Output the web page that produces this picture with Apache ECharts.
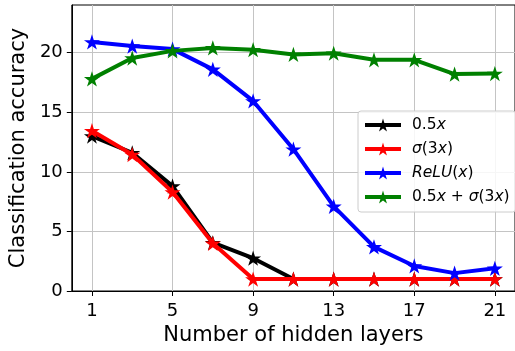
<!DOCTYPE html>
<html><head><meta charset="utf-8">
<script src="https://cdn.jsdelivr.net/npm/echarts@6/dist/echarts.min.js"></script>
<style>html,body{margin:0;padding:0;background:#fff}#c{width:515px;height:351px}</style>
</head><body><div id="c"></div>
<script>
const layers = [1,3,5,7,9,11,13,15,17,19,21];
const xTicks = [1,5,9,13,17,21];
const yTicks = [0,5,10,15,20];
const linear = [13.0,11.6,8.8,4.05,2.75,1.0,1.0,1.0,1.0,1.0,1.0];
const sigmoid = [13.45,11.45,8.3,4.0,1.0,1.0,1.0,1.0,1.0,1.0,1.0];
const relu = [20.9,20.55,20.3,18.6,15.95,11.9,7.1,3.7,2.1,1.5,1.9];
const mixed = [17.8,19.55,20.15,20.4,20.25,19.85,19.95,19.4,19.4,18.2,18.25];
const seriesNames = ['0.5x','σ(3x)','ReLU(x)','0.5x + σ(3x)'];
const legendRich = {
  '0.5x': '{n|0.5}{i|x}',
  'σ(3x)': '{i|σ}{n|(3}{i|x}{n|)}',
  'ReLU(x)': '{i|ReLU}{n|(}{i|x}{n|)}',
  '0.5x + σ(3x)': '{n|0.5}{i|x}{n| + }{i|σ}{n|(3}{i|x}{n|)}'
};
const colors = ['#000000','#ff0000','#0000ff','#008000'];
const star = 'path://M50 0 L61.23 34.55 L97.55 34.55 L68.17 55.9 L79.39 90.45 L50 69.1 L20.61 90.45 L31.83 55.9 L2.45 34.55 L38.77 34.55 Z';
const font = 'DejaVu Sans';
const allData = [linear, sigmoid, relu, mixed];
const chart = echarts.init(document.getElementById('c'), null, {renderer:'canvas'});
chart.setOption({
  animation:false,
  textStyle:{fontFamily:font},
  grid:{left:70,right:0,top:5,bottom:56,show:true,borderColor:'#000',borderWidth:1},
  xAxis:{type:'value',min:0,max:22,
    name:'Number of hidden layers',nameLocation:'middle',nameGap:34,
    nameTextStyle:{fontSize:21,color:'#000',fontFamily:font},
    axisLine:{show:true,lineStyle:{color:'#000',width:1}},
    axisTick:{show:true,customValues:xTicks,length:5,lineStyle:{color:'#000',width:1}},
    axisLabel:{customValues:xTicks,fontSize:18,color:'#000',margin:11,fontFamily:font},
    splitLine:{show:true,lineStyle:{color:'#c4c4c4',width:1}}
  },
  yAxis:{type:'value',min:0,max:24,
    name:'Classification accuracy',nameLocation:'middle',nameGap:42,
    nameTextStyle:{fontSize:21,color:'#000',fontFamily:font},
    axisLine:{show:true,lineStyle:{color:'#000',width:1}},
    axisTick:{show:true,customValues:yTicks,length:5,lineStyle:{color:'#000',width:1}},
    axisLabel:{customValues:yTicks,fontSize:18,color:'#000',margin:9,fontFamily:font},
    splitLine:{show:true,lineStyle:{color:'#c4c4c4',width:1}}
  },
  legend:{orient:'vertical',left:358,top:111,
    padding:[6,6,7,5],itemWidth:36,itemHeight:16,itemGap:8,
    backgroundColor:'rgba(255,255,255,0.85)',borderColor:'#cccccc',borderWidth:1,borderRadius:3,
    lineStyle:{width:4},
    data:seriesNames,
    formatter:name=>legendRich[name],
    textStyle:{padding:[0,0,0,6],rich:{
      n:{fontSize:15.5,color:'#000',fontFamily:font},
      i:{fontSize:15.5,color:'#000',fontFamily:font,fontStyle:'italic'}
    }}
  },
  series: seriesNames.map((nm,k)=>({
    name:nm,type:'line',
    data:layers.map((x,i)=>[x,allData[k][i]]),
    symbol:star,symbolSize:16,symbolKeepAspect:true,
    lineStyle:{color:colors[k],width:4},
    itemStyle:{color:colors[k]},
    z:2+k
  }))
});
</script></body></html>
